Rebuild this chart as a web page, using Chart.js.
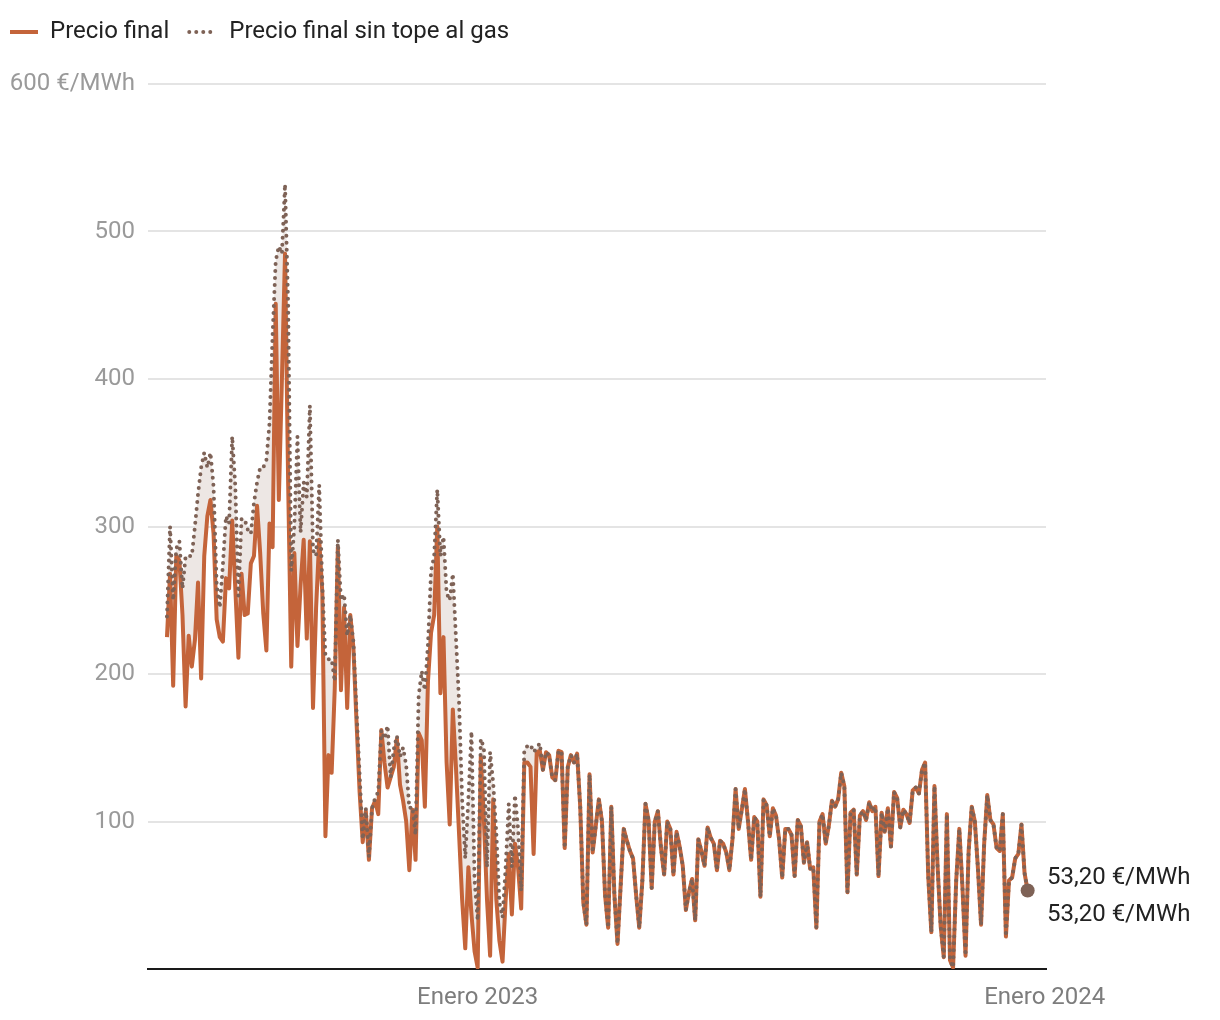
<!DOCTYPE html>
<html><head><meta charset="utf-8">
<script src="https://cdn.jsdelivr.net/npm/chart.js@4/dist/chart.umd.min.js"></script>
<style>html,body{margin:0;padding:0;background:#fff;}canvas{display:block}</style>
</head><body>
<canvas id="c" width="1220" height="1020"></canvas>
<script>
// Serie cada 2 días desde el 15 de junio de 2022 (día 0)
const inicioSerie = '2022-06-15';
const pasoDias = 2;

const precioFinal = [
  225,268,192,280,277,240,178,226,205,223,
  262,197,280,307,318,295,237,225,222,265,
  258,304,258,211,268,240,241,275,280,314,
  282,241,216,302,286,451,318,400,485,330,
  205,282,219,260,291,224,290,177,245,291,
  255,90,145,133,190,286,189,245,177,240,
  218,168,120,86,107,74,109,114,105,162,
  140,123,130,137,156,125,114,100,67,108,
  74,160,155,110,195,228,240,300,187,225,
  140,98,176,137,92,47,14,69,37,12,
  1,144,101,47,9,115,47,19,5,47,
  78,37,85,69,41,140,140,137,78,147,
  148,135,147,145,130,128,148,147,82,137,
  145,140,146,110,45,30,132,79,97,115,
  100,50,28,110,50,17,56,95,87,80,
  75,50,28,60,112,101,55,100,107,82,
  64,100,95,64,93,83,70,40,52,61,
  33,88,80,70,96,89,85,67,87,85,
  79,67,88,122,95,108,122,100,74,103,
  100,49,115,111,90,109,104,88,62,95,
  95,91,63,101,97,72,86,68,69,28,
  100,105,85,97,114,110,115,133,124,52,
  106,108,64,104,107,101,113,107,110,63,
  106,93,109,83,120,116,96,108,105,99,
  121,123,119,135,140,63,25,124,70,29,
  8,105,6,1,60,95,56,9,80,110,
  100,68,30,85,118,101,98,82,80,105,
  22,60,62,75,78,98,65,53.2
];

// Precio sin tope: distinto hasta febrero de 2023; después coincide con el precio final
const sinTopeHastaFeb2023 = [
  239,300,250,285,290,258,280,280,280,300,
  322,340,350,340,350,327,260,245,274,307,
  302,361,327,253,305,305,298,295,316,330,
  340,340,345,370,430,480,490,485,532,450,
  270,300,361,296,330,320,382,284,280,328,
  260,212,210,210,195,291,250,254,226,240,
  222,175,132,88,109,76,109,116,120,162,
  156,165,130,149,158,144,150,138,109,110,
  91,185,202,189,220,270,280,325,280,293,
  255,250,268,225,181,115,75,115,161,60,
  33,156,150,69,147,126,92,45,35,69,
  112,69,118,95,53,149,151,152,147,150,
  153
];
const sinTopeAlGas = sinTopeHastaFeb2023.concat(precioFinal.slice(sinTopeHastaFeb2023.length));

const nombresSeries = ['Precio final', 'Precio final sin tope al gas'];
const ticksX = [200, 565];            // días desde inicioSerie
const etiquetasX = ['Enero 2023', 'Enero 2024'];
const ticksY = [0, 100, 200, 300, 400, 500, 600];
const etiquetasY = ['', '100', '200', '300', '400', '500', '600 €/MWh'];

const colorFinal = '#c4643a';
const colorSinTope = '#7e6256';

const dias = precioFinal.map((_, i) => i * pasoDias);
const puntos = arr => arr.map((v, i) => ({x: dias[i], y: v}));

Chart.defaults.font.family = 'Roboto';
Chart.defaults.font.size = 24;

const legendBox = {
  id: 'legendBox',
  beforeLayout(chart) {
    const lg = chart.legend;
    if (lg && !lg._patched) {
      const f = lg.fit;
      lg.fit = function() { f.call(this); this.height = 84; };
      lg._patched = true;
    }
  }
};

const endLabels = {
  id: 'endLabels',
  afterDatasetsDraw(chart) {
    const {ctx, chartArea, scales} = chart;
    const last = precioFinal.length - 1;
    const y0 = scales.y.getPixelForValue(precioFinal[last]);
    const fmt = v => v.toFixed(2).replace('.', ',') + ' €/MWh';
    ctx.save();
    ctx.font = '24px Roboto';
    ctx.fillStyle = '#222';
    ctx.textAlign = 'left';
    ctx.textBaseline = 'middle';
    ctx.fillText(fmt(precioFinal[last]), chartArea.right + 1, y0 - 13);
    ctx.fillText(fmt(sinTopeAlGas[last]), chartArea.right + 1, y0 + 24);
    ctx.restore();
  }
};

new Chart(document.getElementById('c'), {
  type: 'line',
  data: {
    datasets: [
      {
        label: nombresSeries[0], data: puntos(precioFinal),
        borderColor: colorFinal, borderWidth: 4, borderJoinStyle: 'round',
        pointRadius: 0, pointHoverRadius: 0, tension: 0, fill: false, order: 1
      },
      {
        label: nombresSeries[1], data: puntos(sinTopeAlGas),
        borderColor: colorSinTope, borderWidth: 4, borderDash: [0, 7], borderCapStyle: 'round',
        borderJoinStyle: 'round',
        pointRadius: c => c.dataIndex === sinTopeAlGas.length - 1 ? 7 : 0,
        pointHoverRadius: 0, pointBackgroundColor: colorSinTope, pointBorderWidth: 0,
        tension: 0, fill: '-1', backgroundColor: '#ede7e4', order: 0
      }
    ]
  },
  options: {
    responsive: false, animation: false, devicePixelRatio: 1,
    events: [],
    layout: {padding: {left: -10, right: 174, top: 0, bottom: 0}},
    plugins: {
      tooltip: {enabled: false},
      filler: {drawTime: 'beforeDatasetsDraw'},
      legend: {
        display: true, position: 'top', align: 'start',
        labels: {
          usePointStyle: true, pointStyleWidth: 28, padding: 20, color: '#222',
          font: {size: 24},
          generateLabels: () => [
            {text: nombresSeries[0], strokeStyle: colorFinal, fillStyle: colorFinal, lineWidth: 4,
             lineCap: 'butt', lineDash: [], pointStyle: 'line', datasetIndex: 0, fontColor: '#222'},
            {text: nombresSeries[1], strokeStyle: colorSinTope, fillStyle: colorSinTope, lineWidth: 4,
             lineCap: 'round', lineDash: [0, 7], pointStyle: 'line', datasetIndex: 1, fontColor: '#222'}
          ]
        }
      }
    },
    scales: {
      x: {
        type: 'linear', min: -12.2, max: 565.8,
        afterBuildTicks: s => { s.ticks = ticksX.map(v => ({value: v})); },
        ticks: {callback: v => etiquetasX[ticksX.indexOf(v)], color: '#7d7d7d', font: {size: 24},
                padding: 15, maxRotation: 0, autoSkip: false},
        grid: {display: false, drawTicks: false},
        border: {display: true, color: '#1a1a1a', width: 2},
        afterFit: s => { s.height = 51; }
      },
      y: {
        min: 0, max: 600,
        afterBuildTicks: s => { s.ticks = ticksY.map(v => ({value: v})); },
        ticks: {callback: v => etiquetasY[ticksY.indexOf(v)], color: '#9a9a9a', font: {size: 24}, padding: 13},
        grid: {color: c => (c.tick && c.tick.value === 0) ? 'rgba(0,0,0,0)' : '#e4e4e4', lineWidth: 2, drawTicks: false},
        border: {display: false},
        afterFit: s => { s.width = 158; }
      }
    }
  },
  plugins: [legendBox, endLabels]
});
</script>
</body></html>
